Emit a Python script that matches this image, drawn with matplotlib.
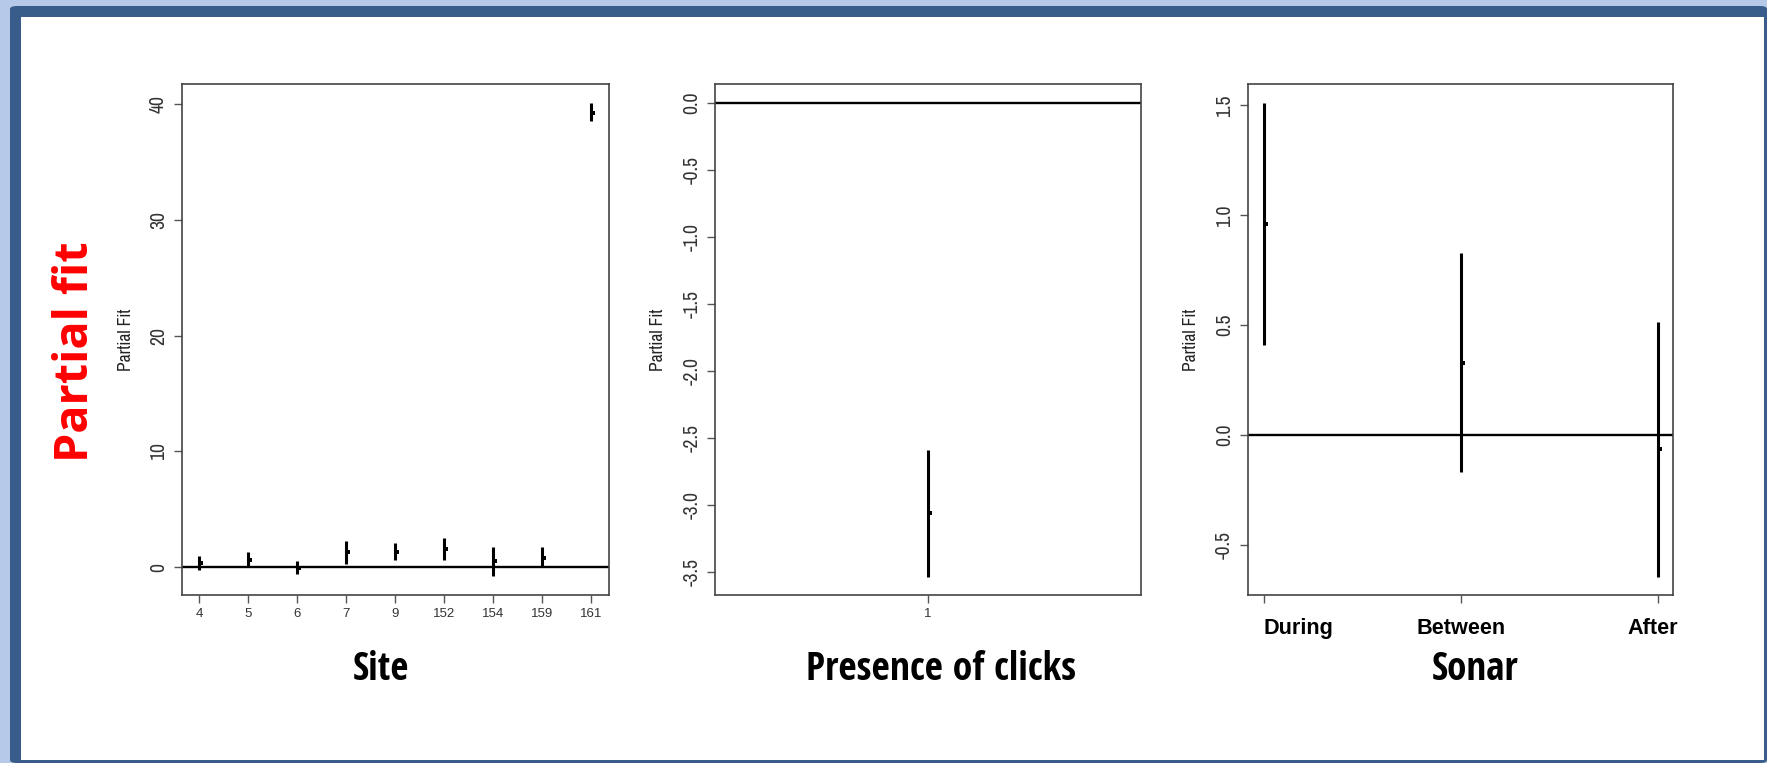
import matplotlib
matplotlib.use("Agg")
import matplotlib.pyplot as plt
import matplotlib.transforms as mtransforms
from matplotlib import font_manager
from matplotlib.patches import Rectangle, FancyBboxPatch

plt.rcParams['axes.unicode_minus'] = False

# partial fits (+/- 2 SE) from the GEE model terms
site_labels = ['4', '5', '6', '7', '9', '152', '154', '159', '161']
site_fit = [0.37, 0.64, -0.04, 1.3, 1.3, 1.6, 0.55, 0.8, 39.2]
site_lower = [-0.26, 0.0, -0.55, 0.23, 0.6, 0.6, -0.78, 0.14, 38.5]
site_upper = [0.95, 1.3, 0.55, 2.3, 2.07, 2.56, 1.7, 1.7, 40.1]

clicks_labels = ['1']
clicks_fit = [-3.06]
clicks_lower = [-3.54]
clicks_upper = [-2.59]

sonar_labels = ['During', 'Between', 'After']
sonar_fit = [0.96, 0.33, -0.065]
sonar_lower = [0.41, -0.17, -0.645]
sonar_upper = [1.51, 0.83, 0.515]

installed = set(f.name for f in font_manager.fontManager.ttflist)


def pick(*names):
    fams = [n for n in names if n in installed]
    return fams[:1] + ['DejaVu Sans']


NARROW = pick('Liberation Sans Narrow', 'Arial Narrow', 'Archivo Narrow', 'PT Sans Narrow',
              'Roboto Condensed')
NARROW_BOLD = pick('Open Sans Condensed', 'Liberation Sans Narrow', 'Roboto Condensed')
ARIAL = pick('Liberation Sans', 'Arimo', 'Arial')
TITLE = pick('Open Sans', 'Carlito', 'Liberation Sans')

W, H = 1767, 763
fig = plt.figure(figsize=(W / 100, H / 100), dpi=100)
fig.patch.set_facecolor('#b7c9e8')

# slide frame
fig.patches.append(FancyBboxPatch((10 / W, 0), (W - 10) / W, (H - 6) / H,
                                  boxstyle='round,pad=0,rounding_size=0.004',
                                  transform=fig.transFigure, facecolor='#385d8a',
                                  edgecolor='none', zorder=-10))
fig.patches.append(Rectangle((21 / W, 3 / H), (1764 - 21) / W, (H - 17 - 3) / H,
                             transform=fig.transFigure, facecolor='white',
                             edgecolor='none', zorder=-9))

renderer = fig.canvas.get_renderer()


def fit_len(t, target, vertical=False):
    # rescale a text so its drawn length is `target` pixels
    bb = t.get_window_extent(renderer)
    size = bb.height if vertical else bb.width
    t.set_fontsize(t.get_fontsize() * target / size)


def px_axes(x0, y0, x1, y1):
    # axes box given in pixels from the top-left corner
    return fig.add_axes([x0 / W, (H - y1) / H, (x1 - x0) / W, (y1 - y0) / H])


def partial_plot(ax, fit, lower, upper, xlim, ylim, yticks, yfmt):
    x = list(range(1, len(fit) + 1))
    ax.vlines(x, lower, upper, colors='black', lw=2.2, zorder=3)
    off = mtransforms.ScaledTranslation(2 / 100, 0, fig.dpi_scale_trans)
    ax.plot(x, fit, 's', color='black', ms=2.4, mew=0,
            transform=ax.transData + off, zorder=4)
    ax.axhline(0, color='black', lw=1.7, zorder=2)
    ax.set_xlim(*xlim)
    ax.set_ylim(*ylim)
    ax.set_xticks(x)
    ax.set_yticks(yticks)
    ax.set_yticklabels([yfmt.format(v) for v in yticks], rotation=90,
                       va='center', fontsize=13, color='#333333', family=NARROW)
    ax.tick_params(axis='both', length=6, width=1, color='#555555', pad=4)
    for s in ax.spines.values():
        s.set_color('#444444')
        s.set_linewidth(1.2)
    ax.set_ylabel('Partial Fit', fontsize=12.5, color='#222222', family=NARROW)


ax1 = px_axes(182, 84.3, 609, 594.6)
partial_plot(ax1, site_fit, site_lower, site_upper, (0.65, 9.36), (-2.37, 41.69),
             [0, 10, 20, 30, 40], '{:.0f}')
ax1.set_xticklabels(site_labels, fontsize=9.5, color='#333333', family=ARIAL)
ax1.yaxis.set_label_coords((134 - 182) / 427, 0.5)

ax2 = px_axes(715.4, 84.3, 1141, 594.6)
partial_plot(ax2, clicks_fit, clicks_lower, clicks_upper, (0.5, 1.5), (-3.67, 0.136),
             [0, -0.5, -1.0, -1.5, -2.0, -2.5, -3.0, -3.5], '{:.1f}')
ax2.set_xticklabels(clicks_labels, fontsize=9.5, color='#333333', family=ARIAL)
ax2.yaxis.set_label_coords((666 - 715.4) / 425.6, 0.5)

ax3 = px_axes(1248, 84.3, 1673.4, 594.6)
partial_plot(ax3, sonar_fit, sonar_lower, sonar_upper, (0.92, 3.08), (-0.726, 1.596),
             [-0.5, 0.0, 0.5, 1.0, 1.5], '{:.1f}')
ax3.set_xticklabels(sonar_labels, fontsize=15.5, fontweight='bold', color='black',
                    family=ARIAL)
ax3.tick_params(axis='x', pad=11)
ax3.get_xticklabels()[0].set_horizontalalignment('left')
ax3.get_xticklabels()[2].set_horizontalalignment('right')
ax3.yaxis.set_label_coords((1199 - 1248) / 425.4, 0.5)

# keep the axis texts to the sizes they are drawn at on the slide
for ax in (ax1, ax2, ax3):
    fit_len(ax.yaxis.label, 63, vertical=True)
fit_len(ax1.get_yticklabels()[-1], 18, vertical=True)
ysize = ax1.get_yticklabels()[-1].get_fontsize()
for ax in (ax1, ax2, ax3):
    for t in ax.get_yticklabels():
        t.set_fontsize(ysize)
fit_len(ax3.get_xticklabels()[1], 89)
xsize = ax3.get_xticklabels()[1].get_fontsize()
for t in ax3.get_xticklabels():
    t.set_fontsize(xsize)
# last label sits flush with the right edge of the box
ax3.get_xticklabels()[2].set_transform(
    ax3.get_xticklabels()[2].get_transform()
    + mtransforms.ScaledTranslation(20 / 100, 0, fig.dpi_scale_trans))

# term names under each panel
for label, xc, w in [('Site', 381, 56), ('Presence of clicks', 941, 271), ('Sonar', 1475, 87)]:
    t = fig.text(xc / W, (H - 680) / H, label, ha='center', va='baseline',
                 fontsize=27, fontweight='bold', color='black', family=NARROW_BOLD)
    fit_len(t, w)

t = fig.text(76 / W, (H - 352) / H, 'Partial fit', rotation=90, ha='center', va='center',
             fontsize=35, fontweight='bold', color='#ff0000', family=TITLE)
fit_len(t, 220, vertical=True)

fig.savefig('out.png', dpi=100, facecolor=fig.get_facecolor())
